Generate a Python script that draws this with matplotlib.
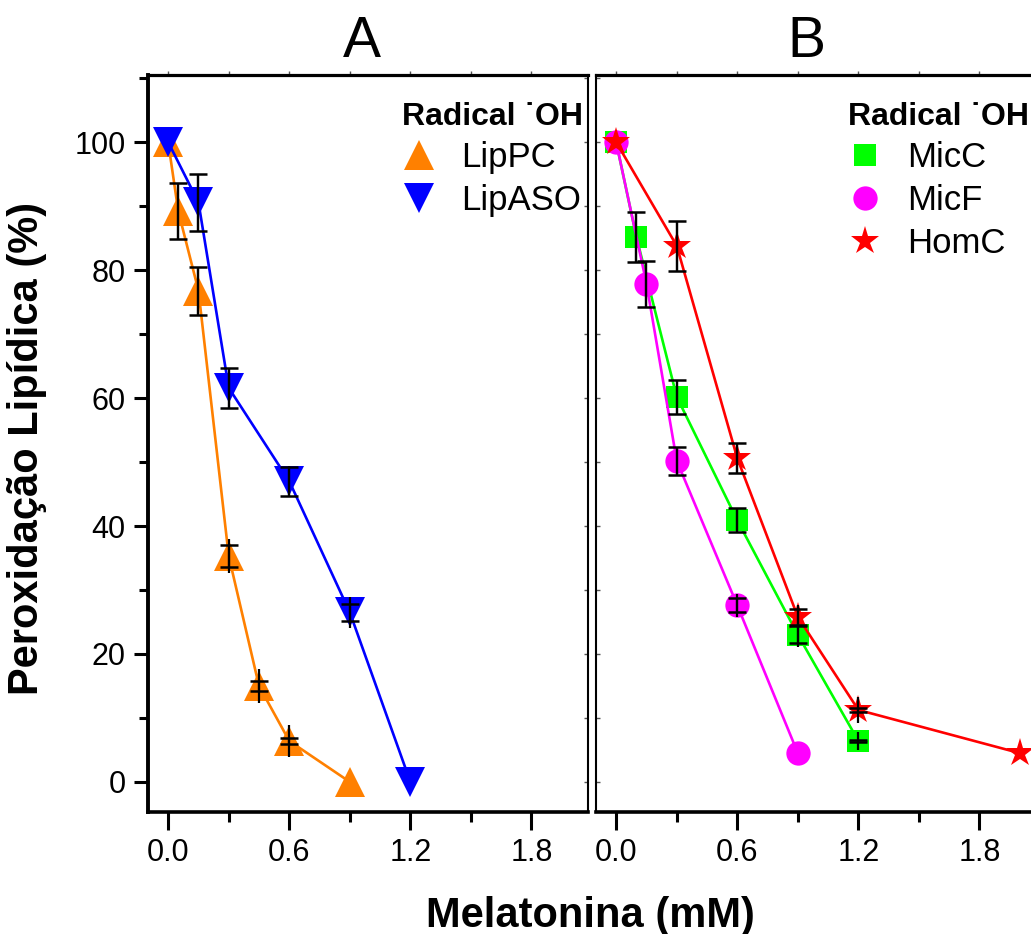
import matplotlib
matplotlib.use("Agg")
import matplotlib.pyplot as plt
from matplotlib.ticker import MultipleLocator, FormatStrFormatter

plt.rcParams['font.family'] = ['Liberation Sans', 'DejaVu Sans']

# ---------------- data ----------------
# Panel A
lippc_x = [0.0, 0.05, 0.15, 0.3, 0.45, 0.6, 0.9]
lippc_y = [100.0, 89.2, 76.8, 35.3, 15.0, 6.4, 0.0]
lippc_err_bar = [0.0, 4.4, 3.75, 2.6, 2.6, 2.5, 0.0]
lippc_err_cap = [0.0, 4.4, 3.75, 1.7, 0.8, 0.4, 0.0]

lipaso_x = [0.0, 0.15, 0.3, 0.6, 0.9, 1.2]
lipaso_y = [100.0, 90.6, 61.6, 47.0, 26.5, 0.0]
lipaso_err_bar = [0.0, 4.5, 3.1, 2.4, 2.4, 0.0]
lipaso_err_cap = [0.0, 4.5, 3.1, 2.3, 1.3, 0.0]

# Panel B
micc_x = [0.0, 0.1, 0.3, 0.6, 0.9, 1.2]
micc_y = [100.0, 85.2, 60.2, 40.9, 23.0, 6.4]
micc_err_bar = [0.0, 3.95, 2.65, 1.85, 1.9, 1.4]
micc_err_cap = [0.0, 3.95, 2.65, 1.85, 1.3, 0.1]

micf_x = [0.0, 0.15, 0.3, 0.6, 0.9]
micf_y = [100.0, 77.9, 50.2, 27.6, 4.5]
micf_err_bar = [0.0, 3.6, 2.2, 1.8, 0.0]
micf_err_cap = [0.0, 3.6, 2.2, 1.1, 0.0]

homc_x = [0.0, 0.3, 0.6, 0.9, 1.2, 2.0]
homc_y = [100.0, 83.8, 50.6, 25.8, 11.25, 4.5]
homc_err_bar = [0.0, 3.9, 2.35, 1.8, 2.1, 0.0]
homc_err_cap = [0.0, 3.9, 2.35, 1.2, 0.35, 0.0]

x_ticks = [0.0, 0.6, 1.2, 1.8]
y_ticks = [0, 20, 40, 60, 80, 100]

legend_title = 'Radical \u02d9OH'

# ---------------- figure ----------------
W, H = 1031, 934
fig = plt.figure(figsize=(W / 100, H / 100), dpi=100)

ax_left_px_A, ax_left_px_B = 148, 596
ax_w_px = 440
ax_top_px, ax_bot_px = 75, 812
bottom = 1 - ax_bot_px / H
height = (ax_bot_px - ax_top_px) / H

axA = fig.add_axes([ax_left_px_A / W, bottom, ax_w_px / W, height])
axB = fig.add_axes([ax_left_px_B / W, bottom, ax_w_px / W, height])


def draw_series(ax, x, y, eb, ec, color, marker, ms, label):
    ax.plot(x, y, color=color, lw=1.9, marker=marker, ms=ms,
            markeredgewidth=0, zorder=3, label=label, clip_on=False)
    idx = [i for i in range(len(x)) if eb[i] > 0]
    xs = [x[i] for i in idx]
    ys = [y[i] for i in idx]
    ax.errorbar(xs, ys, yerr=[eb[i] for i in idx], fmt='none',
                ecolor='black', elinewidth=1.6, capsize=0, zorder=4,
                clip_on=False)
    ax.errorbar(xs, ys, yerr=[ec[i] for i in idx], fmt='none',
                ecolor='black', elinewidth=1.6, capsize=6.5, capthick=1.8,
                zorder=4, clip_on=False)


draw_series(axA, lippc_x, lippc_y, lippc_err_bar, lippc_err_cap,
            '#FF8000', '^', 22, 'LipPC')
draw_series(axA, lipaso_x, lipaso_y, lipaso_err_bar, lipaso_err_cap,
            '#0000FF', 'v', 22, 'LipASO')

draw_series(axB, micc_x, micc_y, micc_err_bar, micc_err_cap,
            '#00FF00', 's', 16.5, 'MicC')
draw_series(axB, micf_x, micf_y, micf_err_bar, micf_err_cap,
            '#FF00FF', 'o', 17.5, 'MicF')
draw_series(axB, homc_x, homc_y, homc_err_bar, homc_err_cap,
            '#FF0000', '*', 21, 'HomC')

for ax in (axA, axB):
    ax.set_xlim(-0.1, 2.08)
    ax.set_ylim(-4.7, 110.5)
    ax.set_xticks(x_ticks)
    ax.xaxis.set_minor_locator(MultipleLocator(0.3))
    ax.xaxis.set_major_formatter(FormatStrFormatter('%.1f'))
    ax.set_yticks(y_ticks)
    ax.yaxis.set_minor_locator(MultipleLocator(10))
    ax.tick_params(axis='x', which='major', direction='out', length=13,
                   width=2.2, labelsize=22, pad=6)
    ax.tick_params(axis='x', which='minor', direction='out', length=7,
                   width=2.2)
    ax.tick_params(axis='y', which='major', direction='out', length=10,
                   width=2.2, labelsize=22, pad=6)
    ax.tick_params(axis='y', which='minor', direction='out', length=6.5,
                   width=2.2)
    ax.spines['bottom'].set_linewidth(2.6)
    ax.spines['top'].set_linewidth(2.3)
    # mirror ticks at top
    sx = ax.secondary_xaxis('top')
    sx.set_xticks(x_ticks)
    sx.xaxis.set_minor_locator(MultipleLocator(0.3))
    sx.tick_params(which='both', direction='out', length=3, width=1,
                   labeltop=False, colors='#555555')
    sx.spines['top'].set_visible(False)

# Panel A spines
axA.spines['left'].set_linewidth(2.8)
axA.spines['right'].set_linewidth(1.5)
syA = axA.secondary_yaxis('right')
syA.set_yticks(y_ticks)
syA.yaxis.set_minor_locator(MultipleLocator(10))
syA.tick_params(which='both', direction='in', length=3, width=1,
                labelright=False, colors='#555555')
syA.spines['right'].set_visible(False)

# Panel B spines / ticks
axB.spines['left'].set_linewidth(1.5)
axB.spines['right'].set_linewidth(2.8)
axB.tick_params(axis='y', which='both', left=False, labelleft=False)
syB = axB.secondary_yaxis('left')
syB.set_yticks(y_ticks)
syB.yaxis.set_minor_locator(MultipleLocator(10))
syB.tick_params(which='both', direction='in', length=3, width=1,
                labelleft=False, colors='#555555')
syB.spines['left'].set_visible(False)

# Titles
axA.text(0.486, 1.024, 'A', transform=axA.transAxes, ha='center',
         va='baseline', fontsize=41)
axB.text(0.477, 1.024, 'B', transform=axB.transAxes, ha='center',
         va='baseline', fontsize=41)

# Legends
for ax, xa in ((axA, 0.577), (axB, 0.573)):
    leg = ax.legend(loc='upper left', bbox_to_anchor=(xa, 0.964),
                    frameon=False, title=legend_title,
                    title_fontproperties={'weight': 'bold', 'size': 23},
                    fontsize=25, numpoints=1, handlelength=1.0,
                    handletextpad=0.7, labelspacing=0.28, borderpad=0,
                    borderaxespad=0, alignment='left')
    for line in leg.get_lines():
        line.set_linestyle('none')

# Axis labels
fig.text(590 / W, 1 - 927 / H, 'Melatonina (mM)', ha='center',
         va='baseline', fontsize=30, fontweight='bold')
fig.text(27 / W, 1 - 448 / H, 'Peroxidação Lipídica (%)', ha='center',
         va='center', rotation=90, fontsize=30, fontweight='bold')

fig.savefig('out.png', dpi=100)
